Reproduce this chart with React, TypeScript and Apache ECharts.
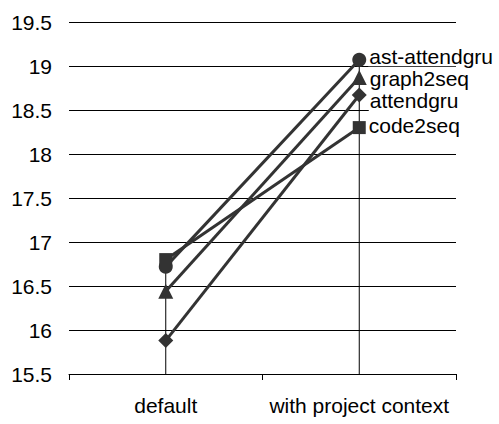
import React, { useEffect, useRef } from "react";
import * as echarts from "echarts";

const categories = ["default", "with project context"];
const seriesNames = ["attendgru", "ast-attendgru", "graph2seq", "code2seq"];
const attendgru = [15.88, 18.67];
const astAttendgru = [16.72, 19.07];
const graph2seq = [16.44, 18.87];
const code2seq = [16.8, 18.3];
const symbols = ["diamond", "circle", "triangle", "rect"];
const symbolSizes = [15, 14, 15, 13];
const labelShift = [5, -3, 1, -2];
const labelPadBottom = [4, 0, 0, 0];
const yTicks = { min: 15.5, max: 19.5, interval: 0.5 };

export default function App() {
  const ref = useRef<HTMLDivElement>(null);
  useEffect(() => {
    if (!ref.current) return;
    const chart = echarts.init(ref.current, undefined, { renderer: "svg" });
    const allData = [attendgru, astAttendgru, graph2seq, code2seq];
    const maxes = categories.map((_, i) => Math.max(...allData.map((d) => d[i])));
    const font = "Liberation Sans, Arial, sans-serif";
    const lineSeries = allData.map((d, k) => ({
      type: "line",
      name: seriesNames[k],
      data: d.map((v, i) =>
        i === d.length - 1
          ? {
              value: v,
              label: {
                show: true,
                position: "right",
                distance: 2,
                offset: [0, labelShift[k]],
                formatter: seriesNames[k],
                color: "#000",
                fontSize: 21,
                lineHeight: 19,
                fontFamily: font,
                backgroundColor: "#fff",
                padding: [0, 2, labelPadBottom[k], 1],
              },
            }
          : v
      ),
      symbol: symbols[k],
      symbolSize: symbolSizes[k],
      lineStyle: { color: "#333", width: 3 },
      itemStyle: { color: "#333" },
      z: 3 + k,
    }));
    chart.setOption({
      animation: false,
      grid: { left: 69, right: 43, top: 22, bottom: 50 },
      xAxis: {
        type: "category",
        data: categories,
        boundaryGap: true,
        axisLine: { lineStyle: { color: "#000", width: 1 } },
        axisTick: { show: true, length: 6, lineStyle: { color: "#000" } },
        axisLabel: { color: "#000", fontSize: 21, fontFamily: font, margin: 21, interval: 0 },
        splitLine: { show: false },
      },
      yAxis: {
        type: "value",
        min: yTicks.min,
        max: yTicks.max,
        interval: yTicks.interval,
        axisLine: { show: false },
        axisTick: { show: false },
        axisLabel: { color: "#000", fontSize: 21, fontFamily: font, margin: 17 },
        splitLine: { lineStyle: { color: "#000", width: 1 } },
      },
      series: [
        {
          type: "custom",
          data: maxes.map((m, i) => [i, m]),
          renderItem: (params: any, api: any) => {
            const top = api.coord([api.value(0), api.value(1)]);
            const bottom = api.coord([api.value(0), yTicks.min]);
            return {
              type: "line",
              shape: { x1: top[0], y1: top[1], x2: bottom[0], y2: bottom[1] },
              style: { stroke: "#000", lineWidth: 1 },
            };
          },
          z: 1,
          silent: true,
        },
        ...lineSeries,
      ],
    });
    return () => chart.dispose();
  }, []);
  return <div ref={ref} style={{ width: 499, height: 424, position: "absolute", left: 0, top: 0 }} />;
}
